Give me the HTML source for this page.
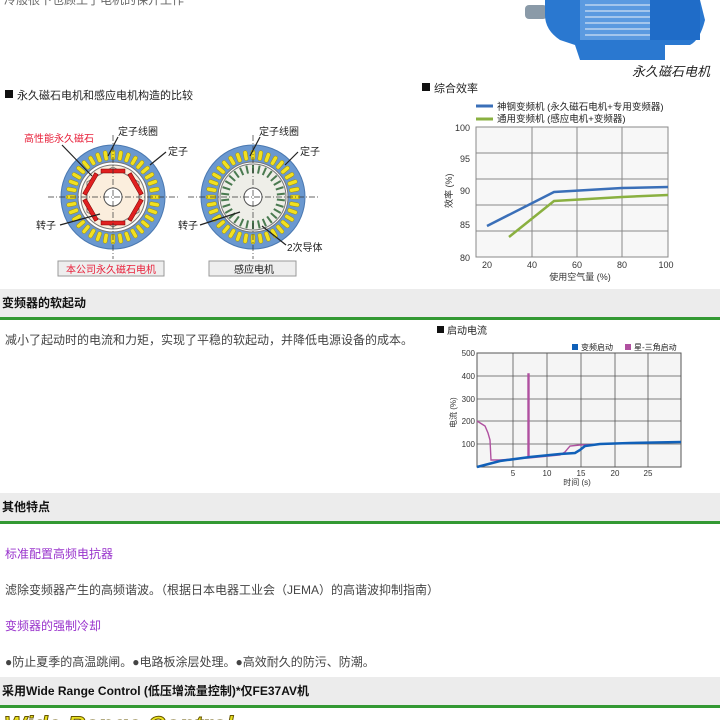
<!DOCTYPE html>
<html><head><meta charset="utf-8"><style>
html,body{margin:0;width:720px;height:720px;overflow:hidden}
body{background:#fff;position:relative;font-family:"Liberation Sans","Noto Sans CJK SC",sans-serif;color:#333}
.a{position:absolute;white-space:nowrap}
.hd{position:absolute;left:0;width:718px;height:28px;background:#ececec;border-bottom:3px solid #339933;font-weight:bold;font-size:12px;color:#111;line-height:28px;padding-left:2px;box-sizing:content-box}
.t{font-size:12px;color:#444}
.p{font-size:12px;color:#9933cc}
svg text{font-family:"Liberation Sans","Noto Sans CJK SC",sans-serif}
</style></head><body>
<div class="a t" style="left:4px;top:-9px;color:#666">冷般很下也顾工了电机的保开工作</div>
<svg class="a" style="left:0;top:0" width="720" height="290">
<defs>
<rect id="s" x="-2" y="-47" width="4" height="10" rx="2" fill="#f2e020" stroke="#a09000" stroke-width="0.5"/>
<rect id="g" x="-1" y="-32" width="2" height="8" fill="#4a7a50"/>
</defs>
<rect x="525" y="5" width="22" height="14" rx="4" fill="#8a9aa8"/>
<path d="M545 0 L700 0 L705 20 Q700 40 690 45 L665 45 L665 60 L580 60 L575 45 L560 40 Q545 30 545 15Z" fill="#2a78d0"/>
<path d="M580 0 L660 0 L660 40 L580 40Z" fill="#5b9ae0"/>
<g stroke="#bcd4f0" stroke-width="1.5"><line x1="585" y1="5" x2="655" y2="5"/><line x1="585" y1="11" x2="655" y2="11"/><line x1="585" y1="17" x2="655" y2="17"/><line x1="585" y1="23" x2="655" y2="23"/><line x1="585" y1="29" x2="655" y2="29"/><line x1="585" y1="35" x2="655" y2="35"/></g>
<rect x="650" y="0" width="50" height="40" fill="#1f6cc8"/>
<text x="632" y="76" font-size="13" font-style="italic" fill="#222">永久磁石电机</text>
<rect x="5" y="90" width="8" height="8" fill="#111"/>
<text x="17" y="99" font-size="11" fill="#222">永久磁石电机和感应电机构造的比较</text>
<rect x="422" y="83" width="8" height="8" fill="#111"/>
<text x="434" y="92" font-size="11" fill="#222">综合效率</text>
<g transform="translate(113,197)">
<circle r="52" fill="#6a98d0" stroke="#4a78b0"/>
<g><use href="#s"/><use href="#s" transform="rotate(10)"/><use href="#s" transform="rotate(20)"/><use href="#s" transform="rotate(30)"/><use href="#s" transform="rotate(40)"/><use href="#s" transform="rotate(50)"/><use href="#s" transform="rotate(60)"/><use href="#s" transform="rotate(70)"/><use href="#s" transform="rotate(80)"/><use href="#s" transform="rotate(90)"/><use href="#s" transform="rotate(100)"/><use href="#s" transform="rotate(110)"/><use href="#s" transform="rotate(120)"/><use href="#s" transform="rotate(130)"/><use href="#s" transform="rotate(140)"/><use href="#s" transform="rotate(150)"/><use href="#s" transform="rotate(160)"/><use href="#s" transform="rotate(170)"/><use href="#s" transform="rotate(180)"/><use href="#s" transform="rotate(190)"/><use href="#s" transform="rotate(200)"/><use href="#s" transform="rotate(210)"/><use href="#s" transform="rotate(220)"/><use href="#s" transform="rotate(230)"/><use href="#s" transform="rotate(240)"/><use href="#s" transform="rotate(250)"/><use href="#s" transform="rotate(260)"/><use href="#s" transform="rotate(270)"/><use href="#s" transform="rotate(280)"/><use href="#s" transform="rotate(290)"/><use href="#s" transform="rotate(300)"/><use href="#s" transform="rotate(310)"/><use href="#s" transform="rotate(320)"/><use href="#s" transform="rotate(330)"/><use href="#s" transform="rotate(340)"/><use href="#s" transform="rotate(350)"/></g>
<circle r="35" fill="#fff" stroke="#777"/>
<circle r="32" fill="#fbeedd" stroke="#777"/>
<polygon points="0,-30 26,-15 26,15 0,30 -26,15 -26,-15" fill="#fbeedd" stroke="#777"/>
<g fill="#e02020" stroke="#700" stroke-width="0.5"><rect x="-12" y="-28" width="24" height="4"/><rect x="-12" y="24" width="24" height="4"/><rect x="-12" y="-28" width="24" height="4" transform="rotate(60)"/><rect x="-12" y="-28" width="24" height="4" transform="rotate(120)"/><rect x="-12" y="-28" width="24" height="4" transform="rotate(240)"/><rect x="-12" y="-28" width="24" height="4" transform="rotate(300)"/></g>
<circle r="9" fill="#fff" stroke="#555"/>
<g stroke="#333" stroke-dasharray="6,2,1,2" stroke-width="0.7"><line x1="-65" y1="0" x2="65" y2="0"/><line x1="0" y1="-62" x2="0" y2="62"/></g>
</g>
<g transform="translate(253,197)">
<circle r="52" fill="#6a98d0" stroke="#4a78b0"/>
<g><use href="#s"/><use href="#s" transform="rotate(10)"/><use href="#s" transform="rotate(20)"/><use href="#s" transform="rotate(30)"/><use href="#s" transform="rotate(40)"/><use href="#s" transform="rotate(50)"/><use href="#s" transform="rotate(60)"/><use href="#s" transform="rotate(70)"/><use href="#s" transform="rotate(80)"/><use href="#s" transform="rotate(90)"/><use href="#s" transform="rotate(100)"/><use href="#s" transform="rotate(110)"/><use href="#s" transform="rotate(120)"/><use href="#s" transform="rotate(130)"/><use href="#s" transform="rotate(140)"/><use href="#s" transform="rotate(150)"/><use href="#s" transform="rotate(160)"/><use href="#s" transform="rotate(170)"/><use href="#s" transform="rotate(180)"/><use href="#s" transform="rotate(190)"/><use href="#s" transform="rotate(200)"/><use href="#s" transform="rotate(210)"/><use href="#s" transform="rotate(220)"/><use href="#s" transform="rotate(230)"/><use href="#s" transform="rotate(240)"/><use href="#s" transform="rotate(250)"/><use href="#s" transform="rotate(260)"/><use href="#s" transform="rotate(270)"/><use href="#s" transform="rotate(280)"/><use href="#s" transform="rotate(290)"/><use href="#s" transform="rotate(300)"/><use href="#s" transform="rotate(310)"/><use href="#s" transform="rotate(320)"/><use href="#s" transform="rotate(330)"/><use href="#s" transform="rotate(340)"/><use href="#s" transform="rotate(350)"/></g>
<circle r="35" fill="#fff" stroke="#777"/>
<circle r="33" fill="#eeeee8" stroke="#777"/>
<g><use href="#g"/><use href="#g" transform="rotate(12)"/><use href="#g" transform="rotate(24)"/><use href="#g" transform="rotate(36)"/><use href="#g" transform="rotate(48)"/><use href="#g" transform="rotate(60)"/><use href="#g" transform="rotate(72)"/><use href="#g" transform="rotate(84)"/><use href="#g" transform="rotate(96)"/><use href="#g" transform="rotate(108)"/><use href="#g" transform="rotate(120)"/><use href="#g" transform="rotate(132)"/><use href="#g" transform="rotate(144)"/><use href="#g" transform="rotate(156)"/><use href="#g" transform="rotate(168)"/><use href="#g" transform="rotate(180)"/><use href="#g" transform="rotate(192)"/><use href="#g" transform="rotate(204)"/><use href="#g" transform="rotate(216)"/><use href="#g" transform="rotate(228)"/><use href="#g" transform="rotate(240)"/><use href="#g" transform="rotate(252)"/><use href="#g" transform="rotate(264)"/><use href="#g" transform="rotate(276)"/><use href="#g" transform="rotate(288)"/><use href="#g" transform="rotate(300)"/><use href="#g" transform="rotate(312)"/><use href="#g" transform="rotate(324)"/><use href="#g" transform="rotate(336)"/><use href="#g" transform="rotate(348)"/></g>
<circle r="9" fill="#fff" stroke="#555"/>
<g stroke="#333" stroke-dasharray="6,2,1,2" stroke-width="0.7"><line x1="-65" y1="0" x2="65" y2="0"/><line x1="0" y1="-62" x2="0" y2="62"/></g>
</g>
<g font-size="10" fill="#222">
<text x="24" y="142" fill="#e8203a">高性能永久磁石</text>
<text x="118" y="135">定子线圈</text>
<text x="168" y="155">定子</text>
<text x="36" y="229">转子</text>
<text x="259" y="135">定子线圈</text>
<text x="300" y="155">定子</text>
<text x="178" y="229">转子</text>
<text x="287" y="251">2次导体</text>
</g>
<g stroke="#222" stroke-width="1.2" fill="none">
<line x1="62" y1="145" x2="92" y2="176"/><line x1="118" y1="137" x2="108" y2="156"/><line x1="166" y1="152" x2="150" y2="165"/><line x1="60" y1="225" x2="100" y2="214"/>
<line x1="260" y1="137" x2="250" y2="156"/><line x1="298" y1="152" x2="285" y2="165"/><line x1="200" y1="225" x2="240" y2="212"/><line x1="286" y1="245" x2="262" y2="226"/>
</g>
<rect x="58" y="261" width="106" height="15" fill="#eeeeee" stroke="#999"/>
<text x="66" y="273" font-size="10" fill="#e8203a">本公司永久磁石电机</text>
<rect x="209" y="261" width="87" height="15" fill="#eeeeee" stroke="#999"/>
<text x="234" y="273" font-size="10" fill="#222">感应电机</text>
<line x1="476" y1="106" x2="493" y2="106" stroke="#3a6fb8" stroke-width="3"/>
<text x="497" y="110" font-size="9.5" fill="#222">神钢变频机 (永久磁石电机+专用变频器)</text>
<line x1="476" y1="119" x2="493" y2="119" stroke="#8ab040" stroke-width="3"/>
<text x="497" y="122" font-size="9.5" fill="#222">通用变频机 (感应电机+变频器)</text>
<rect x="476" y="127" width="192" height="130" fill="#f7f7f7" stroke="#888"/>
<g stroke="#888"><line x1="476" y1="153" x2="668" y2="153"/><line x1="476" y1="179" x2="668" y2="179"/><line x1="476" y1="205" x2="668" y2="205"/><line x1="476" y1="231" x2="668" y2="231"/><line x1="532" y1="127" x2="532" y2="257"/><line x1="577" y1="127" x2="577" y2="257"/><line x1="622" y1="127" x2="622" y2="257"/></g>
<g font-size="9" fill="#333" text-anchor="end"><text x="470" y="131">100</text><text x="470" y="162">95</text><text x="470" y="194">90</text><text x="470" y="228">85</text><text x="470" y="261">80</text></g>
<g font-size="9" fill="#333" text-anchor="middle"><text x="487" y="268">20</text><text x="532" y="268">40</text><text x="577" y="268">60</text><text x="622" y="268">80</text><text x="666" y="268">100</text><text x="580" y="280">使用空气量 (%)</text></g>
<text transform="translate(452,208) rotate(-90)" font-size="9" fill="#333">效率 (%)</text>
<polyline points="487,226 554,192 622,188 668,187" fill="none" stroke="#3a6fb8" stroke-width="2.5"/>
<polyline points="509,237 554,201 622,197 668,195" fill="none" stroke="#8ab040" stroke-width="2.5"/>
</svg>

<div class="hd" style="top:289px">变频器的软起动</div>
<div class="a t" style="left:5px;top:331px">减小了起动时的电流和力矩，实现了平稳的软起动，并降低电源设备的成本。</div>
<svg class="a" style="left:430px;top:320px" width="290" height="170">
<rect x="7" y="6" width="7" height="7" fill="#111"/>
<text x="17" y="14" font-size="10" fill="#222">启动电流</text>
<rect x="142" y="24" width="6" height="6" fill="#1060b8"/><text x="151" y="30" font-size="8" fill="#222">变频启动</text>
<rect x="195" y="24" width="6" height="6" fill="#b050a0"/><text x="204" y="30" font-size="8" fill="#222">星-三角启动</text>
<rect x="47" y="33" width="204" height="114" fill="#f5f5f5" stroke="#555"/>
<g stroke="#555" stroke-width="0.8"><line x1="47" y1="56" x2="251" y2="56"/><line x1="47" y1="79" x2="251" y2="79"/><line x1="47" y1="101" x2="251" y2="101"/><line x1="47" y1="124" x2="251" y2="124"/><line x1="83" y1="33" x2="83" y2="147"/><line x1="117" y1="33" x2="117" y2="147"/><line x1="151" y1="33" x2="151" y2="147"/><line x1="185" y1="33" x2="185" y2="147"/><line x1="218" y1="33" x2="218" y2="147"/></g>
<g font-size="8" fill="#333" text-anchor="end"><text x="45" y="36">500</text><text x="45" y="59">400</text><text x="45" y="82">300</text><text x="45" y="104">200</text><text x="45" y="127">100</text></g>
<g font-size="8" fill="#333" text-anchor="middle"><text x="83" y="156">5</text><text x="117" y="156">10</text><text x="151" y="156">15</text><text x="185" y="156">20</text><text x="218" y="156">25</text><text x="147" y="165">时间 (s)</text></g>
<text transform="translate(26,108) rotate(-90)" font-size="8" fill="#333">电流 (%)</text>
<polyline points="47,101 55,106 58,113 60,120 61,140 70,140 96,138 98,138 98,54 99,54 99,138 130,135 135,132 140,126 150,125 175,124 251,122" fill="none" stroke="#b050a0" stroke-width="1.4"/>
<polyline points="47,147 70,141 100,137 130,134 145,133 150,130 155,126 170,124 200,123 251,122" fill="none" stroke="#1060b8" stroke-width="2.5"/>
</svg>

<div class="hd" style="top:493px">其他特点</div>
<div class="a p" style="left:5px;top:545px">标准配置高频电抗器</div>
<div class="a t" style="left:5px;top:581px">滤除变频器产生的高频谐波。（根据日本电器工业会（JEMA）的高谐波抑制指南）</div>
<div class="a p" style="left:5px;top:617px">变频器的强制冷却</div>
<div class="a t" style="left:5px;top:653px">●防止夏季的高温跳闸。●电路板涂层处理。●高效耐久的防污、防潮。</div>
<div class="hd" style="top:677px">采用Wide Range Control (低压增流量控制)*仅FE37AV机</div>
<div class="a" style="left:4px;top:712px;font-size:24px;font-weight:bold;font-style:italic;color:#e8e020;-webkit-text-stroke:1px #665500">Wide Range Control</div>
</body></html>
